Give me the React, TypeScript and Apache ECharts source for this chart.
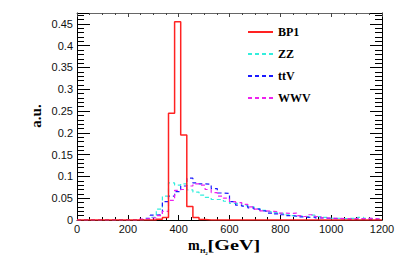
import React, { useEffect, useRef } from "react";
import * as echarts from "echarts";

// Histogram binning (GeV)
const binStart = 0;
const binWidth = 24;

const legendNames = ["BP1", "ZZ", "ttV", "WWV"];

const bp1 = [
  0, 0, 0, 0, 0, 0, 0, 0, 0, 0,
  0, 0, 0, 0.002, 0.006, 0.245, 0.455, 0.195, 0.031, 0.006,
  0.001, 0, 0, 0, 0, 0, 0, 0, 0, 0,
  0, 0, 0, 0, 0, 0, 0, 0, 0, 0,
  0, 0, 0, 0, 0, 0, 0, 0, 0, 0,
];
const zz = [
  0, 0, 0, 0, 0, 0, 0, 0, 0, 0,
  0, 0.002, 0.006, 0.025, 0.055, 0.085, 0.08, 0.083, 0.069, 0.064,
  0.057, 0.052, 0.047, 0.047, 0.043, 0.038, 0.038, 0.033, 0.031, 0.026,
  0.022, 0.019, 0.017, 0.015, 0.012, 0.01, 0.009, 0.008, 0.011, 0.008,
  0.006, 0.004, 0.004, 0.003, 0.004, 0.003, 0.006, 0.004, 0.003, 0.002,
];
const ttv = [
  0, 0, 0, 0, 0, 0, 0, 0, 0, 0,
  0.001, 0.004, 0.011, 0.012, 0.042, 0.055, 0.065, 0.078, 0.096, 0.085,
  0.083, 0.082, 0.072, 0.062, 0.061, 0.042, 0.034, 0.032, 0.028, 0.025,
  0.021, 0.016, 0.014, 0.012, 0.01, 0.009, 0.007, 0.006, 0.007, 0.005,
  0.004, 0.004, 0.003, 0.003, 0.002, 0.002, 0.002, 0.002, 0.001, 0.001,
];
const wwv = [
  0, 0, 0, 0, 0, 0, 0, 0, 0, 0,
  0.002, 0.003, 0.005, 0.01, 0.02, 0.045, 0.068, 0.07, 0.078, 0.083,
  0.08, 0.07, 0.063, 0.055, 0.05, 0.042, 0.04, 0.036, 0.03, 0.025,
  0.021, 0.02, 0.019, 0.016, 0.015, 0.016, 0.01, 0.008, 0.012, 0.008,
  0.005, 0.004, 0.004, 0.003, 0.003, 0.004, 0.003, 0.004, 0.003, 0.002,
];

const toSteps = (vals: number[]) => {
  const pts: [number, number][] = vals.map((v, i) => [binStart + i * binWidth, v]);
  pts.push([binStart + vals.length * binWidth, vals[vals.length - 1]]);
  return pts;
};

const serif = "Liberation Serif";
const sans = "Liberation Sans";

export default function App() {
  const ref = useRef<HTMLDivElement>(null);
  useEffect(() => {
    if (!ref.current) return;
    const chart = echarts.init(ref.current, null, { renderer: "svg" });
    const mkSeries = (name: string, data: number[], color: string, type: any, width: number, z: number) => ({
      name,
      type: "line",
      step: "end",
      data: toSteps(data),
      symbol: "none",
      z,
      lineStyle: { color, width, type },
      itemStyle: { color },
    });
    chart.setOption({
      animation: false,
      backgroundColor: "#fff",
      grid: { left: 77, right: 25, top: 13, bottom: 40 },
      legend: {
        data: legendNames,
        orient: "vertical",
        left: 242,
        top: 21,
        itemWidth: 25,
        itemHeight: 14,
        itemGap: 10,
        itemStyle: { opacity: 0 },
        textStyle: { fontFamily: serif, fontWeight: "bold", fontSize: 12, color: "#000" },
      },
      xAxis: [
        {
          type: "value",
          min: 0,
          max: 1200,
          interval: 200,
          position: "bottom",
          axisLine: { show: true, onZero: false, lineStyle: { color: "#000", width: 1 } },
          axisTick: { show: true, inside: true, length: 5, lineStyle: { color: "#000" } },
          minorTick: { show: true, splitNumber: 4, length: 3, lineStyle: { color: "#000" } },
          axisLabel: {
            color: "#111",
            fontFamily: sans,
            fontSize: 11,
            margin: 3,
            formatter: (v: number) => String(v),
          },
          splitLine: { show: false },
        },
        {
          type: "value",
          min: 0,
          max: 1200,
          interval: 200,
          position: "top",
          axisLine: { show: true, onZero: false, lineStyle: { color: "#666", width: 1 } },
          axisTick: { show: true, inside: true, length: 4, lineStyle: { color: "#444" } },
          minorTick: { show: true, splitNumber: 4, length: 2, lineStyle: { color: "#444" } },
          axisLabel: { show: false },
          splitLine: { show: false },
        },
      ],
      yAxis: [
        {
          type: "value",
          min: 0,
          max: 0.475,
          interval: 0.05,
          position: "left",
          axisLine: { show: true, onZero: false, lineStyle: { color: "#000", width: 1 } },
          axisTick: { show: true, inside: true, length: 13, lineStyle: { color: "#000" } },
          minorTick: { show: true, splitNumber: 5, length: 7, lineStyle: { color: "#000" } },
          axisLabel: { color: "#111", fontFamily: sans, fontSize: 11, margin: 4, showMaxLabel: false },
          splitLine: { show: false },
        },
        {
          type: "value",
          min: 0,
          max: 0.475,
          interval: 0.05,
          position: "right",
          axisLine: { show: true, onZero: false, lineStyle: { color: "#000", width: 1 } },
          axisTick: { show: true, inside: true, length: 12, lineStyle: { color: "#000" } },
          minorTick: { show: true, splitNumber: 5, length: 7, lineStyle: { color: "#000" } },
          axisLabel: { show: false },
          splitLine: { show: false },
        },
      ],
      series: [
        mkSeries("ZZ", zz, "#33eedd", [4, 3], 1.2, 2),
        mkSeries("ttV", ttv, "#1a1aff", [4, 3], 1.2, 3),
        mkSeries("WWV", wwv, "#ee22ee", [4, 3], 1.2, 4),
        mkSeries("BP1", bp1, "#ff2222", "solid", 1.5, 5),
      ],
      graphic: [
        {
          type: "text",
          x: 35.5,
          y: 116,
          rotation: Math.PI / 2,
          style: {
            text: "a.u.",
            font: `bold 15px "${serif}"`,
            fill: "#000",
            align: "center",
            verticalAlign: "middle",
          },
        },
        {
          type: "text",
          x: 188,
          y: 245,
          style: { text: "m", font: `bold 14px "${serif}"`, fill: "#000", align: "left", verticalAlign: "middle" },
        },
        {
          type: "text",
          x: 200,
          y: 250.5,
          style: { text: "H", font: `bold 7px "${serif}"`, fill: "#000", align: "left", verticalAlign: "middle" },
        },
        {
          type: "text",
          x: 205.2,
          y: 253,
          style: { text: "2", font: `bold 5px "${serif}"`, fill: "#000", align: "left", verticalAlign: "middle" },
        },
        {
          type: "text",
          x: 207.5,
          y: 245,
          scaleX: 1.35,
          style: { text: "[GeV]", font: `bold 15px "${serif}"`, fill: "#000", align: "left", verticalAlign: "middle" },
        },
      ],
    });
    return () => chart.dispose();
  }, []);
  return (
    <div
      ref={ref}
      style={{ position: "fixed", left: 0, top: 0, width: 407, height: 260, background: "#fff" }}
    />
  );
}
